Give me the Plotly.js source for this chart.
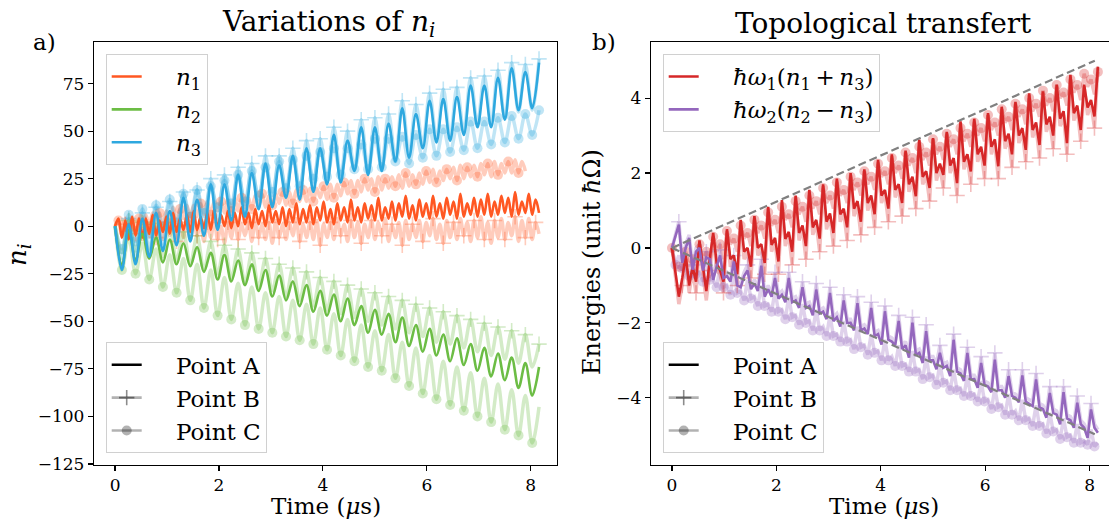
<!DOCTYPE html>
<html><head><meta charset="utf-8">
<script src="https://cdn.plot.ly/plotly-3.0.1.min.js"></script>
<style>body{margin:0;background:#fff}#chart{width:1109px;height:521px}</style>
</head><body><div id="chart"></div>
<script>
// ---------- data ----------
const TIME_STEP_SLOW = 0.1316;   // µs between samples of the slow series
const TIME_STEP_FAST = 0.0658;   // µs between samples of the fast series
const xTicks = [0, 2, 4, 6, 8];
const yTicksLeft = [-125, -100, -75, -50, -25, 0, 25, 50, 75];
const yTicksRight = [-4, -2, 0, 2, 4];

// n1 (fast sampling)
const n1_A = [0,4,-6,3,-7,5,-5,4,-6,4,-4,6,-5,3,-3,5,-4,7,-3,4,-2,6,-3,8,-2,5,-1,7,-2,9,-1,6,0,8,-1,7,0,10,1,7,-1,9,1,8,0,11,2,8,1,10,0,9,2,12,1,9,2,11,1,10,3,13,2,9,1,12,3,10,2,14,3,10,2,12,4,11,3,15,3,10,4,13,3,12,5,16,4,11,3,14,5,12,4,16,5,12,4,15,6,13,4,17,5,12,6,15,5,14,6,17,5,13,6,16,7,15,5,18,6,13,7,17,6,14,7];
const n1_B = [0,2,-5,1,-6,3,-4,2,-7,1,-5,3,-6,0,-7,2,-5,3,-8,1,-6,2,-7,4,-5,1,-8,2,-6,3,-7,0,-9,2,-6,3,-7,1,-5,2,-8,4,-6,1,-7,2,-9,3,-6,1,-7,2,-5,4,-8,1,-6,2,-7,3,-10,1,-6,2,-7,4,-5,1,-8,3,-6,2,-9,1,-6,3,-7,2,-5,4,-8,1,-6,2,-10,3,-7,1,-6,3,-8,2,-5,4,-7,1,-9,3,-6,2,-7,4,-5,2,-8,3,-6,5,-7,2,-9,3,-6,4,-7,2,-5,5,-8,3,-6,4,-7,2,-4];
const n1_C = [0,3,-2,4,-1,5,-1,4,0,6,0,7,2,7,1,8,2,10,3,9,4,11,5,11,5,12,6,13,6,13,8,13,7,14,8,15,8,15,10,15,9,16,10,17,10,16,11,17,12,18,11,18,12,19,13,19,13,20,13,20,15,21,14,22,15,22,16,23,17,24,17,24,18,25,19,25,18,26,19,25,20,26,21,27,20,28,21,27,22,28,22,29,23,30,23,29,24,30,25,31,24,32,25,31,26,32,26,33,27,33,26,34,27,33,28,34,28,35,28,34,29];
// n2, n3 (slow sampling)
const n2_A = [0,-21,-2,-18,-4,-17,-6,-19,-7,-20,-9,-21,-11,-24,-14,-28,-15,-29,-18,-31,-20,-34,-23,-37,-26,-39,-29,-42,-31,-45,-34,-47,-36,-50,-38,-52,-42,-56,-44,-57,-46,-61,-48,-63,-52,-66,-54,-68,-57,-71,-59,-73,-62,-76,-64,-79,-67,-81,-69,-85,-72,-89,-74];
const n2_B = [0,-14,3,-13,2,-14,1,-16,0,-18,-3,-20,-5,-23,-8,-25,-10,-27,-12,-30,-14,-32,-17,-34,-20,-37,-22,-39,-24,-42,-27,-44,-29,-46,-31,-48,-33,-50,-35,-52,-37,-54,-39,-56,-41,-58,-43,-61,-45,-62,-47,-64,-49,-66,-51,-68,-53,-70,-55,-72,-57,-74,-62];
const n2_C = [0,-23,-6,-25,-9,-28,-12,-32,-15,-35,-17,-39,-20,-43,-23,-47,-27,-49,-30,-52,-32,-54,-35,-56,-37,-58,-39,-60,-41,-62,-43,-65,-46,-68,-49,-71,-52,-74,-55,-76,-57,-80,-61,-84,-64,-88,-68,-91,-71,-94,-74,-97,-77,-100,-80,-103,-83,-107,-86,-110,-89,-114,-95];
const n3_A = [0,-23,1,-20,4,-16,7,-13,8,-10,15,-8,14,-5,22,-2,22,3,27,5,28,9,33,10,32,15,37,14,41,18,41,22,48,23,45,29,52,27,52,29,54,34,62,36,59,41,66,44,67,45,68,48,74,52,74,52,78,56,83,61,81,62,86];
const n3_B = [0,-17,4,-15,7,-12,10,-9,13,-6,18,-4,19,-1,25,2,27,6,31,8,33,11,37,13,37,17,41,18,45,21,46,24,52,26,50,31,56,30,57,32,59,36,66,38,64,43,70,46,72,47,73,50,78,54,79,54,82,57,86,60,85,61,88];
const n3_C = [0,-12,6,-8,9,-4,11,0,14,2,17,5,19,7,21,10,24,12,27,13,29,16,31,18,34,20,35,21,37,25,39,26,41,27,41,30,43,30,46,31,46,34,47,33,48,36,51,37,51,39,52,40,55,41,55,43,57,44,58,46,59,48,61];
// energies (fast sampling)
const e1_A = [0,-0.6,-1.3,-0.8,-0.2,-1.0,-0.5,-0.9,0.2,-0.5,-1.15,-0.3,0.4,-0.4,-0.6,-0.9,0.5,-0.3,-0.2,-0.7,0.75,-0.1,0.0,-0.5,0.85,0.0,0.1,-0.4,1.1,0.08,0.27,-0.36,1.28,0.24,0.43,-0.1,1.4,0.4,0.6,0.05,1.55,0.55,0.75,0.25,1.7,0.7,0.92,0.4,1.85,0.9,1.05,0.55,2.0,1.05,1.25,0.7,2.1,1.2,1.4,0.9,2.35,1.4,1.55,1.05,2.5,1.55,1.7,1.2,2.6,1.7,1.9,1.38,2.89,1.9,2.05,1.6,2.93,2.0,2.25,1.95,3.1,2.2,2.4,1.73,3.38,2.3,2.5,2.04,3.45,2.5,2.7,2.2,3.6,2.7,2.9,2.18,3.77,2.85,3.05,2.5,3.9,3.0,3.2,2.62,4.13,3.15,3.35,2.75,4.18,3.3,3.5,3.0,4.36,3.45,3.65,2.8,4.62,3.6,3.8,3.15,4.36,3.75,3.95,3.51,4.84];
const e1_B = [0,-0.7,-1.5,-1.0,-0.3,-1.2,-0.6,-1.2,0.1,-0.7,-1.4,-0.6,0.3,-0.6,-0.7,-1.2,0.4,-0.5,-0.3,-1.0,0.7,-0.3,-0.1,-0.8,0.8,-0.2,0.0,-0.7,1.05,-0.1,0.2,-0.7,1.2,0.05,0.35,-0.45,1.35,0.2,0.5,-0.3,1.5,0.35,0.65,-0.1,1.65,0.5,0.85,0.05,1.8,0.7,0.95,0.2,1.95,0.85,1.15,0.35,2.05,1.0,1.3,0.55,2.3,1.2,1.45,0.7,2.45,1.35,1.6,0.85,2.55,1.5,1.8,1.05,2.85,1.7,1.95,1.25,2.9,1.8,2.15,1.6,3.05,2.0,2.3,1.4,3.33,2.1,2.4,1.7,3.4,2.3,2.6,1.85,3.55,2.5,2.8,1.85,3.72,2.65,2.95,2.15,3.85,2.8,3.1,2.3,4.08,2.95,3.25,2.4,4.13,3.1,3.4,2.65,4.3,3.25,3.55,2.5,4.57,3.4,3.7,2.85,4.32,3.55,3.85,3.2,4.8];
const e1_C = [0,-0.5,-0.5,-0.6,-0.1,-0.5,-0.3,-0.6,0.1,-0.3,-0.1,-0.4,0.3,-0.1,0.1,-0.3,0.45,0.1,0.25,-0.1,0.6,0.25,0.4,0.05,0.75,0.4,0.6,0.25,0.95,0.6,0.75,0.4,1.1,0.75,0.9,0.55,1.25,0.9,1.1,0.7,1.4,1.05,1.25,0.9,1.6,1.2,1.4,1.05,1.75,1.4,1.55,1.2,1.9,1.55,1.75,1.4,2.05,1.7,1.9,1.55,2.25,1.9,2.05,1.7,2.4,2.0,2.2,1.85,2.55,2.2,2.4,2.0,2.7,2.35,2.55,2.2,2.9,2.5,2.7,2.35,3.05,2.7,2.9,2.5,3.2,2.85,3.05,2.7,3.35,3.0,3.2,2.85,3.55,3.15,3.35,3.0,3.7,3.35,3.5,3.15,3.85,3.5,3.7,3.3,4.0,3.65,3.85,3.5,4.2,3.8,4.0,3.65,4.35,4.0,4.15,3.8,4.5,4.15,4.35,3.95,4.65,4.3,4.5,4.1,4.7];
const e2_A = [0,0.3,0.62,-0.4,0.0,0.27,-0.58,-0.1,0.0,-0.6,-0.25,-0.3,-0.85,-0.5,-0.2,-0.8,-0.75,-0.9,-0.36,-1.0,-1.05,-0.75,-0.6,-1.1,-0.95,-1.15,-0.47,-1.3,-1.1,-1.3,-0.8,-1.35,-1.25,-1.45,-0.8,-1.45,-1.4,-1.6,-1.05,-1.6,-1.55,-1.8,-1.11,-1.75,-1.7,-1.9,-1.2,-1.95,-1.85,-2.1,-1.4,-2.0,-2.0,-2.2,-1.47,-2.2,-2.15,-2.3,-1.6,-2.35,-2.3,-2.58,-1.69,-2.45,-2.5,-2.6,-1.95,-2.7,-2.6,-2.93,-1.99,-2.85,-2.8,-3.07,-2.22,-3.0,-3.0,-3.24,-2.8,-3.2,-3.15,-3.42,-2.45,-3.3,-3.35,-3.55,-2.8,-3.5,-3.5,-3.73,-3.07,-3.65,-3.7,-3.85,-2.98,-3.8,-3.8,-4.0,-3.42,-3.95,-4.0,-4.12,-3.4,-4.1,-4.15,-4.22,-3.51,-4.25,-4.3,-4.53,-3.87,-4.4,-4.45,-4.71,-3.85,-4.55,-4.6,-4.8,-4.13,-4.7,-4.8,-5.07,-4.31,-4.8,-4.93];
const e2_B = [0,0.35,0.7,-0.3,0.1,0.35,-0.45,0.0,0.1,-0.5,-0.1,-0.2,-0.75,-0.4,-0.05,-0.7,-0.65,-0.8,-0.2,-0.9,-0.95,-0.65,-0.45,-1.0,-0.85,-1.05,-0.3,-1.2,-1.0,-1.2,-0.65,-1.25,-1.15,-1.35,-0.65,-1.35,-1.3,-1.5,-0.9,-1.5,-1.45,-1.7,-0.95,-1.65,-1.6,-1.8,-1.05,-1.85,-1.75,-2.0,-1.25,-1.9,-1.9,-2.1,-1.3,-2.1,-2.05,-2.2,-1.45,-2.25,-2.2,-2.45,-1.55,-2.35,-2.4,-2.5,-1.8,-2.6,-2.5,-2.8,-1.85,-2.75,-2.7,-2.95,-2.05,-2.9,-2.9,-3.1,-2.6,-3.1,-3.05,-3.3,-2.3,-3.2,-3.25,-3.45,-2.65,-3.4,-3.4,-3.6,-2.9,-3.55,-3.6,-3.75,-2.8,-3.7,-3.7,-3.9,-3.25,-3.85,-3.9,-4.0,-3.25,-4.0,-4.05,-4.1,-3.35,-4.15,-4.2,-4.4,-3.7,-4.3,-4.35,-4.6,-3.7,-4.45,-4.5,-4.7,-3.95,-4.6,-4.7,-4.95,-4.15,-4.7,-4.85];
const e2_C = [0,-0.45,-0.2,-0.55,-0.5,-0.75,-0.3,-0.7,-0.65,-0.9,-0.35,-0.85,-0.85,-1.05,-0.5,-1.05,-1.0,-1.25,-0.65,-1.2,-1.15,-1.4,-0.85,-1.35,-1.3,-1.55,-1.0,-1.55,-1.5,-1.7,-1.15,-1.7,-1.65,-1.9,-1.3,-1.85,-1.8,-2.05,-1.5,-2.0,-1.95,-2.2,-1.65,-2.2,-2.1,-2.35,-1.8,-2.35,-2.3,-2.5,-1.95,-2.5,-2.45,-2.7,-2.1,-2.65,-2.6,-2.85,-2.3,-2.8,-2.75,-3.0,-2.45,-3.0,-2.9,-3.15,-2.6,-3.15,-3.1,-3.3,-2.75,-3.3,-3.25,-3.5,-2.9,-3.45,-3.4,-3.65,-3.1,-3.6,-3.55,-3.8,-3.25,-3.8,-3.75,-3.95,-3.4,-3.95,-3.9,-4.1,-3.55,-4.1,-4.05,-4.3,-3.75,-4.25,-4.2,-4.45,-3.9,-4.45,-4.35,-4.6,-4.05,-4.6,-4.55,-4.75,-4.2,-4.75,-4.7,-4.95,-4.4,-4.9,-4.85,-5.1,-4.55,-5.05,-5.0,-5.2,-4.7,-5.2,-5.15,-5.25,-4.85,-5.3,-5.2];
// dashed guide lines (endpoints)
const guideTime = [0, 8.1];
const guideUp = [0, 5.0];
const guideDown = [0, -4.97];

// ---------- styling ----------
const COL = {n1:'#ff5722', n2:'#6cbd45', n3:'#2ea8df', e1:'#d62728', e2:'#9467bd'};
function rgba(hex, a){const h=hex.replace('#','');return `rgba(${parseInt(h.substr(0,2),16)},${parseInt(h.substr(2,2),16)},${parseInt(h.substr(4,2),16)},${a})`;}
const PALE = 0.3;
const L = {x:'x', y:'y'}, R = {x:'x2', y:'y2'};

function lineTrace(y, dt, ax, color, width, shape, dash){
  return {type:'scatter', mode:'lines', x0:0, dx:dt, y:y, xaxis:ax.x, yaxis:ax.y,
    line:{color:color, width:width, shape:shape||'linear', smoothing:1, dash:dash||'solid'},
    showlegend:false, hoverinfo:'skip'};
}
function markTrace(y, dt, ax, keep, kind, color){
  const ys = y.map((v,i)=> keep(i) ? v : null);
  const m = kind==='plus'
    ? {symbol:'cross-thin', size:11, line:{color:color, width:1.6}, color:color}
    : {symbol:'circle', size:10, color:color, line:{width:0}};
  return {type:'scatter', mode:'markers', x0:0, dx:dt, y:ys, xaxis:ax.x, yaxis:ax.y,
    marker:m, showlegend:false, hoverinfo:'skip'};
}

const traces = [];
// left panel, pale series (points B and C)
[[n1_C,TIME_STEP_FAST,COL.n1],[n2_C,TIME_STEP_SLOW,COL.n2],[n3_C,TIME_STEP_SLOW,COL.n3],
 [n1_B,TIME_STEP_FAST,COL.n1],[n2_B,TIME_STEP_SLOW,COL.n2],[n3_B,TIME_STEP_SLOW,COL.n3]].forEach(s=>{
  traces.push(lineTrace(s[0], s[1], L, rgba(s[2],PALE), 3.5, 'spline'));
});
traces.push(markTrace(n1_C, TIME_STEP_FAST, L, i=>i%3===1, 'circle', rgba(COL.n1,PALE)));
traces.push(markTrace(n2_C, TIME_STEP_SLOW, L, i=>i%2===1, 'circle', rgba(COL.n2,PALE)));
traces.push(markTrace(n3_C, TIME_STEP_SLOW, L, i=>i>0, 'circle', rgba(COL.n3,PALE)));
traces.push(markTrace(n1_B, TIME_STEP_FAST, L, i=>i>0 && i%3===0, 'plus', rgba(COL.n1,PALE)));
traces.push(markTrace(n2_B, TIME_STEP_SLOW, L, i=>i>0 && i%2===0, 'plus', rgba(COL.n2,PALE)));
traces.push(markTrace(n3_B, TIME_STEP_SLOW, L, i=>i>0 && i%2===0, 'plus', rgba(COL.n3,PALE)));
// left panel, point A
traces.push(lineTrace(n1_A, TIME_STEP_FAST, L, COL.n1, 2.6, 'spline'));
traces.push(lineTrace(n2_A, TIME_STEP_SLOW, L, COL.n2, 2.6, 'spline'));
traces.push(lineTrace(n3_A, TIME_STEP_SLOW, L, COL.n3, 2.6, 'spline'));

// right panel
[[e1_C,COL.e1],[e2_C,COL.e2],[e1_B,COL.e1],[e2_B,COL.e2]].forEach(s=>{
  traces.push(lineTrace(s[0], TIME_STEP_FAST, R, rgba(s[1],PALE), 3.5));
});
traces.push(markTrace(e1_C, TIME_STEP_FAST, R, i=>i%2===0, 'circle', rgba(COL.e1,PALE)));
traces.push(markTrace(e2_C, TIME_STEP_FAST, R, i=>i%2===1, 'circle', rgba(COL.e2,PALE)));
traces.push(markTrace(e1_B, TIME_STEP_FAST, R, i=>i%4===3, 'plus', rgba(COL.e1,PALE)));
traces.push(markTrace(e2_B, TIME_STEP_FAST, R, i=>i%4===2, 'plus', rgba(COL.e2,PALE)));
traces.push(lineTrace(e1_A, TIME_STEP_FAST, R, COL.e1, 2.6));
traces.push(lineTrace(e2_A, TIME_STEP_FAST, R, COL.e2, 2.6));
traces.push({type:'scatter', mode:'lines', x:guideTime, y:guideUp, xaxis:'x2', yaxis:'y2',
  line:{color:'#808080', width:2.2, dash:'8px,4px'}, showlegend:false, hoverinfo:'skip'});
traces.push({type:'scatter', mode:'lines', x:guideTime, y:guideDown, xaxis:'x2', yaxis:'y2',
  line:{color:'#808080', width:2.2, dash:'8px,4px'}, showlegend:false, hoverinfo:'skip'});

// legend-only entries
function legendEntry(name, legend, ax, line, marker){
  const t = {type:'scatter', mode: marker ? 'lines+markers' : 'lines', x:[null], y:[null],
    xaxis:ax.x, yaxis:ax.y, name:name, legend:legend, line:line, showlegend:true, hoverinfo:'skip'};
  if (marker) t.marker = marker;
  return t;
}
const PAD = '\u00a0\u00a0\u00a0\u00a0';
const TS = '\u2009';
const seriesNames = ['<i>n</i><sub>1</sub>', '<i>n</i><sub>2</sub>', '<i>n</i><sub>3</sub>'];
const energyNames = ['<i>ħω</i><sub>1</sub>(<i>n</i><sub>1</sub>'+TS+'+'+TS+'<i>n</i><sub>3</sub>)',
                     '<i>ħω</i><sub>2</sub>(<i>n</i><sub>2</sub>'+TS+'−'+TS+'<i>n</i><sub>3</sub>)'];
const pointNames = ['Point A', 'Point B', 'Point C'];
traces.push(legendEntry(PAD+seriesNames[0], 'legend', L, {color:COL.n1, width:2.6}));
traces.push(legendEntry(PAD+seriesNames[1], 'legend', L, {color:COL.n2, width:2.6}));
traces.push(legendEntry(PAD+seriesNames[2], 'legend', L, {color:COL.n3, width:2.6}));
traces.push(legendEntry(PAD+energyNames[0], 'legend3', R, {color:COL.e1, width:2.6}));
traces.push(legendEntry(PAD+energyNames[1], 'legend3', R, {color:COL.e2, width:2.6}));
[['legend2',L],['legend4',R]].forEach(p=>{
  traces.push(legendEntry(PAD+pointNames[0], p[0], p[1], {color:'#000', width:2.6}));
  traces.push(legendEntry(PAD+pointNames[1], p[0], p[1], {color:'rgba(0,0,0,0.3)', width:2.6},
    {symbol:'cross-thin', size:11, color:'rgba(0,0,0,0.45)', line:{color:'rgba(0,0,0,0.45)', width:1.6}}));
  traces.push(legendEntry(PAD+pointNames[2], p[0], p[1], {color:'rgba(0,0,0,0.3)', width:2.6},
    {symbol:'circle', size:10, color:'rgba(0,0,0,0.3)', line:{width:0}}));
});

// ---------- layout ----------
const W = 1109, H = 521;
const px = v => v / W, py = v => 1 - v / H;
const FONT = 'DejaVu Serif, serif';
const axisCommon = {showgrid:false, zeroline:false, showline:true, linecolor:'#000', linewidth:1.2,
  ticks:'outside', ticklen:5, tickwidth:1.2, tickcolor:'#000', tickfont:{family:FONT, size:17, color:'#000'}};
const legendCommon = {font:{family:FONT, size:23, color:'#000'}, bgcolor:'rgba(255,255,255,0.8)',
  bordercolor:'#d0d0d0', borderwidth:1, xanchor:'left', tracegroupgap:0};

const layout = {
  width:W, height:H, margin:{l:0, r:0, t:0, b:0}, paper_bgcolor:'#fff', plot_bgcolor:'#fff',
  font:{family:FONT, color:'#000'}, hovermode:false,
  xaxis: Object.assign({}, axisCommon, {domain:[px(94), px(557)], range:[-0.405, 8.505], tickvals:xTicks, anchor:'y', mirror:true}),
  yaxis: Object.assign({}, axisCommon, {domain:[py(464.5), py(42.3)], range:[-125.3, 96.7], tickvals:yTicksLeft, anchor:'x', mirror:true}),
  xaxis2: Object.assign({}, axisCommon, {domain:[px(651), 1], range:[-0.402, 8.372], tickvals:xTicks, anchor:'y2', mirror:true}),
  yaxis2: Object.assign({}, axisCommon, {domain:[py(464.5), py(42.3)], range:[-5.78, 5.49], tickvals:yTicksRight, anchor:'x2'}),
  legend:  Object.assign({}, legendCommon, {x:px(105.7), y:py(54), yanchor:'top'}),
  legend2: Object.assign({}, legendCommon, {x:px(105.7), y:py(453.3), yanchor:'bottom'}),
  legend3: Object.assign({}, legendCommon, {x:px(662.7), y:py(54), yanchor:'top'}),
  legend4: Object.assign({}, legendCommon, {x:px(662.7), y:py(453.3), yanchor:'bottom'}),
  annotations: [
    {text:'Variations of <i>n</i><sub><i>i</i></sub>', x:px(328), y:py(23), size:28},
    {text:'Topological transfert', x:px(883.5), y:py(23), size:28},
    {text:'a)', x:px(44), y:py(42), size:23},
    {text:'b)', x:px(604), y:py(42), size:23},
    {text:'Time (<i>μ</i>s)', x:px(325.5), y:py(506), size:23},
    {text:'Time (<i>μ</i>s)', x:px(883.5), y:py(506), size:23},
    {text:'<i>n</i><sub><i>i</i></sub>', x:px(18), y:py(255), size:26, angle:-90},
    {text:'Energies (unit <i>ħ</i>Ω)', x:px(592), y:py(262), size:24, angle:-90}
  ].map(a=>({text:a.text, x:a.x, y:a.y, xref:'paper', yref:'paper', xanchor:'center', yanchor:'middle',
    showarrow:false, textangle:a.angle||0, font:{family:FONT, size:a.size, color:'#000'}}))
};

Plotly.newPlot('chart', traces, layout, {staticPlot:true, displayModeBar:false});
</script>
</body></html>
